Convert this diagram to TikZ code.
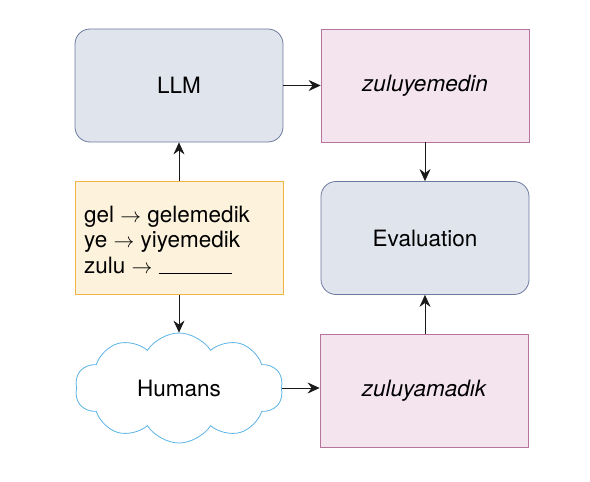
\documentclass[tikz,border=0pt]{standalone}
\usepackage{fontspec}
\setmainfont{TeX Gyre Heros}
\usetikzlibrary{shapes.symbols,arrows.meta}
\definecolor{bluefill}{HTML}{E0E4EC}
\definecolor{bluedraw}{HTML}{6C7AA0}
\definecolor{pinkfill}{HTML}{F3E4EE}
\definecolor{pinkdraw}{HTML}{B5739D}
\definecolor{yelfill}{HTML}{FDF3DC}
\definecolor{yeldraw}{HTML}{F0B44A}
\definecolor{clouddraw}{HTML}{5AB4E5}
\definecolor{arrowcol}{HTML}{1A1A1A}
\tikzset{
  base/.style={minimum width=208pt, minimum height=113pt, inner sep=0pt, font=\fontsize{22.5}{26}\selectfont, line width=0.8pt},
  bluebox/.style={base, rounded corners=15pt, fill=bluefill, draw=bluedraw},
  pinkbox/.style={base, fill=pinkfill, draw=pinkdraw, font=\fontsize{22.5}{26}\selectfont\itshape},
  yelbox/.style={base, fill=yelfill, draw=yeldraw},
  cloudnode/.style={cloud, cloud puffs=10, cloud puff arc=115, aspect=2.0, draw=clouddraw, line width=0.8pt, fill=white, minimum width=208pt, minimum height=110pt, inner sep=0pt, font=\fontsize{22.5}{26}\selectfont},
  conn/.style={draw=arrowcol, line width=0.8pt, -{Stealth[length=12pt,width=11pt,inset=4pt]}}
}
\begin{document}
\begin{tikzpicture}[x=1pt,y=-1pt]
\useasboundingbox (0,0) rectangle (590,482);
\node[bluebox] (llm) at (179,85.5) {LLM};
\node[pinkbox] (zy) at (425,85.5) {zuluyemedin};
\node[bluebox] (ev) at (425,238) {Evaluation};
\node[yelbox] (ex) at (179,238) {};
\node[anchor=west, align=left, font=\fontsize{22.5}{25.5}\selectfont, inner sep=0pt] (extext) at (84,240)
  {gel $\rightarrow$ gelemedik\\ye $\rightarrow$ yiyemedik\\zulu $\rightarrow$ \rule[-1pt]{73pt}{0.8pt}};
\node[cloudnode] (hu) at (179,388) {Humans};
\node[pinkbox] (za) at (424,390.5) {zuluyamadık};
\draw[conn] (llm.east) -- (zy.west);
\draw[conn] (zy.south) -- (ev.north);
\draw[conn] (ex.north) -- (llm.south);
\draw[conn] (ex.south) -- (hu.north);
\draw[conn] (hu.east) -- (hu.east -| za.west);
\draw[conn] (za.north -| ev.south) -- (ev.south);
\end{tikzpicture}
\end{document}
